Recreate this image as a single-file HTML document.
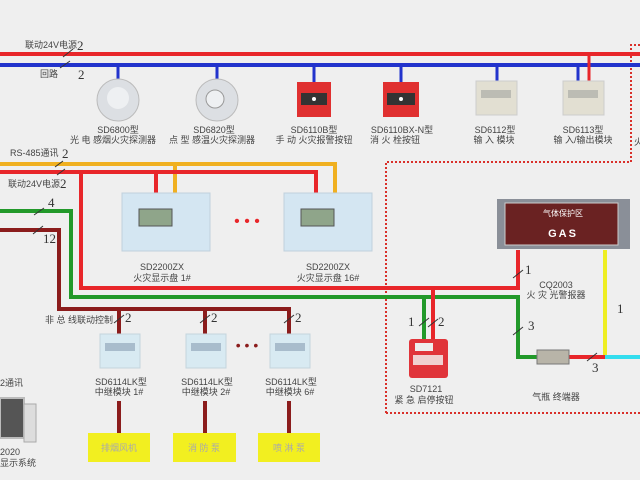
<!DOCTYPE html>
<html><head><meta charset="utf-8"><style>
html,body{margin:0;padding:0;background:#efefef;}
svg{display:block;font-family:"Liberation Sans","Noto Sans CJK SC",sans-serif;}
.t{font-size:9px;fill:#444;text-anchor:middle}
.n{font-family:"Liberation Serif",serif;font-size:13px;fill:#333}
.l{font-size:9px;fill:#444}
</style></head><body>
<svg width="640" height="480" viewBox="0 0 640 480">
<rect width="640" height="480" fill="#efefef"/>
<!-- dotted border -->
<path d="M386,413 V162 H631 V45 H640 M386,413 H640" fill="none" stroke="#d9302a" stroke-width="2" stroke-dasharray="2,2"/>
<!-- top bus -->
<line x1="0" y1="54" x2="640" y2="54" stroke="#e8262a" stroke-width="4"/>
<line x1="0" y1="65" x2="640" y2="65" stroke="#2233cc" stroke-width="4"/>
<g stroke="#2233cc" stroke-width="3">
<line x1="118" y1="65" x2="118" y2="80"/><line x1="217" y1="65" x2="217" y2="80"/>
<line x1="314" y1="65" x2="314" y2="82"/><line x1="401" y1="65" x2="401" y2="82"/>
<line x1="497" y1="65" x2="497" y2="82"/><line x1="578" y1="65" x2="578" y2="82"/></g>
<line x1="589" y1="54" x2="589" y2="82" stroke="#e8262a" stroke-width="3"/>
<g stroke="#333" stroke-width="1"><line x1="63" y1="57" x2="73" y2="49"/><line x1="60" y1="68" x2="70" y2="61"/></g>
<text class="l" x="25" y="48">联动24V电源</text><text class="n" x="77" y="50">2</text>
<text class="l" x="40" y="77">回路</text><text class="n" x="78" y="79">2</text>
<!-- detectors -->
<circle cx="118" cy="100" r="21" fill="#dcdfe3" stroke="#bbb"/><circle cx="118" cy="98" r="11" fill="#eef0f2"/>
<circle cx="217" cy="100" r="21" fill="#dcdfe3" stroke="#bbb"/><circle cx="215" cy="99" r="9" fill="#eef0f2" stroke="#999"/>
<rect x="297" y="82" width="34" height="35" fill="#e03030"/><rect x="301" y="93" width="26" height="12" fill="#333"/><circle cx="314" cy="99" r="2" fill="#fff"/>
<rect x="383" y="82" width="36" height="35" fill="#e03030"/><rect x="387" y="93" width="28" height="12" fill="#333"/><circle cx="401" cy="99" r="2" fill="#fff"/>
<rect x="476" y="81" width="41" height="34" fill="#e2dfd2" stroke="#ccc"/><rect x="481" y="90" width="30" height="8" fill="#bcbcb4"/>
<rect x="563" y="81" width="41" height="34" fill="#e2dfd2" stroke="#ccc"/><rect x="568" y="90" width="30" height="8" fill="#bcbcb4"/>
<text class="t" x="118" y="133">SD6800型</text><text class="t" x="113" y="143">光 电 感烟火灾探测器</text>
<text class="t" x="214" y="133">SD6820型</text><text class="t" x="212" y="143">点 型 感温火灾探测器</text>
<text class="t" x="314" y="133">SD6110B型</text><text class="t" x="314" y="143">手 动 火灾报警按钮</text>
<text class="t" x="402" y="133">SD6110BX-N型</text><text class="t" x="395" y="143">消 火 栓按钮</text>
<text class="t" x="495" y="133">SD6112型</text><text class="t" x="494" y="143">输 入 模块</text>
<text class="t" x="583" y="133">SD6113型</text><text class="t" x="583" y="143">输 入/输出模块</text>
<!-- RS485 & 24V -->
<path d="M0,164 H335 V195 M175,164 V195" fill="none" stroke="#f0b020" stroke-width="4"/>
<path d="M0,172 H316 V195 M156,172 V195 M81,172 V288 H518 V250" fill="none" stroke="#e8262a" stroke-width="4"/>
<text class="l" x="10" y="156">RS-485通讯</text><text class="n" x="62" y="158">2</text>
<text class="l" x="8" y="187">联动24V电源</text><text class="n" x="60" y="188">2</text>
<g stroke="#333"><line x1="55" y1="167" x2="63" y2="161"/><line x1="57" y1="175" x2="65" y2="169"/></g>
<!-- green -->
<path d="M0,211 H71 V297 H518 V357 H537" fill="none" stroke="#22992a" stroke-width="4"/>
<path d="M424,297 V339" stroke="#22992a" stroke-width="4"/>
<path d="M433,288 V339" stroke="#e8262a" stroke-width="4"/>
<text class="n" x="48" y="207">4</text><line x1="34" y1="215" x2="44" y2="208" stroke="#333"/>
<!-- dark red -->
<path d="M0,230 H59 V309 H289 V335 M119,309 V335 M205,309 V335" fill="none" stroke="#8b1c1c" stroke-width="4"/>
<g stroke="#8b1c1c" stroke-width="4"><line x1="119" y1="401" x2="119" y2="433"/><line x1="205" y1="401" x2="205" y2="433"/><line x1="289" y1="401" x2="289" y2="433"/></g>
<text class="n" x="43" y="243">12</text><line x1="33" y1="234" x2="43" y2="226" stroke="#333"/>
<text class="l" x="45" y="323">非 总 线联动控制</text>
<text class="n" x="125" y="322">2</text><text class="n" x="211" y="322">2</text><text class="n" x="295" y="322">2</text>
<g stroke="#333"><line x1="114" y1="323" x2="124" y2="315"/><line x1="200" y1="323" x2="210" y2="315"/><line x1="284" y1="323" x2="294" y2="315"/></g>
<!-- panels -->
<g><rect x="122" y="193" width="88" height="58" fill="#d4e6f2" stroke="#c0d0dc"/><rect x="139" y="209" width="33" height="17" fill="#8fa58a" stroke="#555"/>
<rect x="284" y="193" width="88" height="58" fill="#d4e6f2" stroke="#c0d0dc"/><rect x="301" y="209" width="33" height="17" fill="#8fa58a" stroke="#555"/></g>
<text x="247" y="226" font-size="16" fill="#e8262a" text-anchor="middle">• • •</text>
<text class="t" x="162" y="270">SD2200ZX</text><text class="t" x="162" y="281">火灾显示盘 1#</text>
<text class="t" x="328" y="270">SD2200ZX</text><text class="t" x="328" y="281">火灾显示盘 16#</text>
<!-- relay modules -->
<rect x="100" y="334" width="40" height="34" fill="#d8eaf2" stroke="#c4d4dc"/><rect x="105" y="343" width="30" height="8" fill="#a8bccc"/>
<rect x="186" y="334" width="40" height="34" fill="#d8eaf2" stroke="#c4d4dc"/><rect x="191" y="343" width="30" height="8" fill="#a8bccc"/>
<rect x="270" y="334" width="40" height="34" fill="#d8eaf2" stroke="#c4d4dc"/><rect x="275" y="343" width="30" height="8" fill="#a8bccc"/>
<text x="247" y="350" font-size="14" fill="#8b1c1c" text-anchor="middle">• • •</text>
<text class="t" x="121" y="385">SD6114LK型</text><text class="t" x="119" y="395">中继模块 1#</text>
<text class="t" x="207" y="385">SD6114LK型</text><text class="t" x="206" y="395">中继模块 2#</text>
<text class="t" x="291" y="385">SD6114LK型</text><text class="t" x="290" y="395">中继模块 6#</text>
<rect x="88" y="433" width="62" height="29" fill="#f2ef20"/><rect x="173" y="433" width="63" height="29" fill="#f2ef20"/><rect x="258" y="433" width="62" height="29" fill="#f2ef20"/>
<text class="t" x="119" y="451" fill="#999" style="fill:#aaa">排烟风机</text><text class="t" x="204" y="451" style="fill:#aaa">消 防 泵</text><text class="t" x="289" y="451" style="fill:#aaa">喷 淋 泵</text>
<!-- computer -->
<rect x="0" y="398" width="24" height="40" fill="#555" stroke="#bbb" stroke-width="2"/><rect x="24" y="404" width="12" height="38" fill="#ddd" stroke="#aaa"/>
<text class="l" x="0" y="386">2通讯</text><text class="l" x="0" y="455">2020</text><text class="l" x="0" y="466">显示系统</text>
<!-- alarm box -->
<rect x="497" y="199" width="133" height="50" fill="#8a8f98"/><rect x="505" y="203" width="113" height="42" fill="#6a2222" stroke="#ccc"/>
<text x="563" y="216" font-size="8" fill="#fff" text-anchor="middle">气体保护区</text>
<text x="563" y="237" font-size="11" font-weight="bold" fill="#fff" text-anchor="middle" letter-spacing="2">GAS</text>
<text class="t" x="556" y="288">CQ2003</text><text class="t" x="556" y="298">火 灾 光警报器</text>
<line x1="605" y1="250" x2="605" y2="357" stroke="#eeee22" stroke-width="4"/>
<line x1="569" y1="357" x2="605" y2="357" stroke="#e8262a" stroke-width="4"/>
<line x1="605" y1="357" x2="640" y2="357" stroke="#33ddee" stroke-width="4"/>
<rect x="537" y="350" width="32" height="14" fill="#b8b4a8" stroke="#777"/>
<text class="t" x="556" y="400">气瓶 终端器</text>
<!-- SD7121 -->
<rect x="409" y="339" width="39" height="39" rx="3" fill="#e0343a"/><rect x="415" y="343" width="18" height="8" fill="#eee"/><rect x="413" y="355" width="30" height="10" fill="#f0d0d0"/>
<text class="t" x="426" y="392">SD7121</text><text class="t" x="424" y="403">紧 急 启停按钮</text>
<text class="n" x="408" y="326">1</text><text class="n" x="438" y="326">2</text>
<text class="n" x="525" y="274">1</text><text class="n" x="528" y="330">3</text><text class="n" x="617" y="313">1</text><text class="n" x="592" y="372">3</text>
<g stroke="#333"><line x1="419" y1="326" x2="429" y2="318"/><line x1="428" y1="327" x2="438" y2="319"/><line x1="513" y1="278" x2="523" y2="270"/><line x1="513" y1="335" x2="523" y2="327"/><line x1="587" y1="361" x2="597" y2="353"/></g>
<text class="l" x="634" y="145">火</text>
</svg>
</body></html>
